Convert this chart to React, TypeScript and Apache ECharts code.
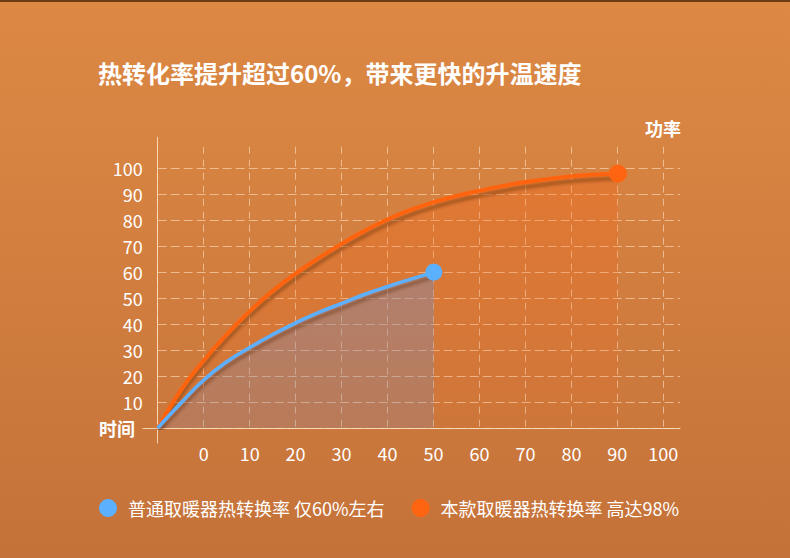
import React, { useEffect, useRef } from "react";
import * as echarts from "echarts";

const titleText = "热转化率提升超过60%，带来更快的升温速度";
const xAxisName = "时间";
const yAxisName = "功率";
const seriesNames = ["普通取暖器热转换率 仅60%左右", "本款取暖器热转换率 高达98%"];

const xMin = -10;
const xMax = 100;
const xStep = 10;
const yMin = 0;
const yMax = 100;
const yStep = 10;

const blueX = [-10, -5, 0, 5, 10, 15, 20, 25, 30, 35, 40, 45, 50];
const blueY = [0, 9.5, 18.5, 25.5, 31, 36, 40.5, 44.5, 48, 51.5, 54.5, 57.3, 60];
const orangeX = [-10, -5, 0, 5, 10, 15, 20, 25, 30, 35, 40, 45, 50, 55, 60, 65, 70, 75, 80, 85, 90];
const orangeY = [0, 14.5, 26, 36, 45, 52.8, 59.5, 65.5, 71, 76, 80.4, 84, 87, 89.4, 91.4, 93.2, 94.7, 95.9, 96.9, 97.6, 98];

const FONT = "'Noto Sans CJK SC', 'Noto Sans', sans-serif";
const BLUE = "#5BB0FF";
const ORANGE = "#FF6410";
const AXIS_COLOR = "rgba(255,226,196,0.85)";
const GRID_COLOR = "rgba(255,226,196,0.6)";

function toPairs(xs: number[], ys: number[], endSize: number) {
  return xs.map((x, i) =>
    i === xs.length - 1
      ? { value: [x, ys[i]], symbol: "circle", symbolSize: endSize }
      : { value: [x, ys[i]] }
  );
}

export default function App() {
  const ref = useRef<HTMLDivElement>(null);
  useEffect(() => {
    if (!ref.current) return;
    const chart = echarts.init(ref.current, undefined, { renderer: "svg" });
    const lineShadow = {
      shadowColor: "rgba(90,40,10,0.4)",
      shadowBlur: 3,
      shadowOffsetY: 5,
    };
    chart.setOption({
      animation: false,
      backgroundColor: {
        type: "linear",
        x: 0,
        y: 0,
        x2: 0,
        y2: 1,
        colorStops: [
          { offset: 0, color: "#DD8944" },
          { offset: 1, color: "#C5723A" },
        ],
      },
      textStyle: { fontFamily: FONT },
      graphic: [
        {
          type: "rect",
          left: 0,
          top: 0,
          shape: { width: 790, height: 2 },
          style: { fill: "#6B3B16" },
        },
      ],
      title: [
        {
          text: titleText,
          left: 98,
          top: 60,
          padding: 0,
          textStyle: { color: "#fff", fontSize: 24, fontWeight: "bold", fontFamily: FONT },
        },
        {
          text: yAxisName,
          right: 109,
          top: 119,
          padding: 0,
          textStyle: { color: "#fff", fontSize: 18, fontWeight: "bold", fontFamily: FONT },
        },
      ],
      legend: {
        data: [seriesNames[0], seriesNames[1]],
        left: 99,
        top: 499,
        icon: "circle",
        itemWidth: 18,
        itemHeight: 18,
        itemGap: 27,
        padding: 0,
        textStyle: { color: "#fff", fontSize: 18, fontFamily: FONT, padding: [0, 0, 0, 6] },
      },
      grid: [
        { left: 157.7, right: 110, top: 168.3, bottom: 130 },
        { left: 157.7, right: 126.7, top: 146.7, bottom: 130 },
        { left: 157.7, right: 110, top: 137.3, bottom: 115 },
        { left: 143, right: 110, top: 137.3, bottom: 130 },
      ],
      xAxis: [
        { gridIndex: 0, type: "value", min: xMin, max: 103.5, show: false },
        {
          gridIndex: 1,
          type: "value",
          min: xMin,
          max: xMax,
          interval: xStep,
          axisLine: { show: false },
          axisTick: { show: false },
          axisLabel: {
            color: "#fff",
            fontSize: 18,
            fontFamily: FONT,
            margin: 16,
            formatter: (v: number) => (v < 0 ? "" : String(v)),
          },
          splitLine: { show: true, lineStyle: { color: GRID_COLOR, type: [7, 6], width: 1 } },
        },
        { gridIndex: 2, type: "value", min: 0, max: 1, show: false },
        {
          gridIndex: 3,
          type: "value",
          min: 0,
          max: 1,
          axisLine: { show: true, onZero: false, lineStyle: { color: AXIS_COLOR, width: 1 } },
          axisTick: { show: false },
          axisLabel: { show: false },
          splitLine: { show: false },
          name: xAxisName,
          nameLocation: "start",
          nameGap: 8,
          nameTextStyle: { color: "#fff", fontSize: 18, fontWeight: "bold", fontFamily: FONT },
        },
      ],
      yAxis: [
        {
          gridIndex: 0,
          type: "value",
          min: yMin,
          max: yMax,
          interval: yStep,
          axisLine: { show: false },
          axisTick: { show: false },
          axisLabel: {
            color: "#fff",
            fontSize: 18,
            fontFamily: FONT,
            margin: 15,
            formatter: (v: number) => (v === 0 ? "" : String(v)),
          },
          splitLine: { show: true, lineStyle: { color: GRID_COLOR, type: [9, 4], width: 1 } },
        },
        { gridIndex: 1, type: "value", min: 0, max: 1, show: false },
        {
          gridIndex: 2,
          type: "value",
          min: 0,
          max: 1,
          axisLine: { show: true, onZero: false, lineStyle: { color: AXIS_COLOR, width: 1 } },
          axisTick: { show: false },
          axisLabel: { show: false },
          splitLine: { show: false },
        },
        { gridIndex: 3, type: "value", min: 0, max: 1, show: false },
      ],
      series: [
        {
          name: seriesNames[1],
          type: "line",
          xAxisIndex: 0,
          yAxisIndex: 0,
          smooth: 0.5,
          symbol: "none",
          data: toPairs(orangeX, orangeY, 18),
          itemStyle: { color: ORANGE },
          lineStyle: { color: ORANGE, width: 4, ...lineShadow },
          areaStyle: {
            color: {
              type: "linear",
              x: 0,
              y: 0,
              x2: 0,
              y2: 1,
              colorStops: [
                { offset: 0, color: "rgba(255,96,16,0.4)" },
                { offset: 1, color: "rgba(255,96,16,0.08)" },
              ],
            },
          },
          z: 2,
        },
        {
          name: seriesNames[0],
          type: "line",
          xAxisIndex: 0,
          yAxisIndex: 0,
          smooth: 0.5,
          symbol: "none",
          data: toPairs(blueX, blueY, 17),
          itemStyle: { color: BLUE },
          lineStyle: { color: BLUE, width: 3.5, ...lineShadow },
          areaStyle: {
            color: {
              type: "linear",
              x: 0,
              y: 0,
              x2: 0,
              y2: 1,
              colorStops: [
                { offset: 0, color: "rgba(110,140,200,0.55)" },
                { offset: 1, color: "rgba(110,140,200,0.3)" },
              ],
            },
          },
          z: 3,
        },
      ],
    });
    return () => chart.dispose();
  }, []);
  return (
    <div
      ref={ref}
      style={{ position: "fixed", left: 0, top: 0, width: 790, height: 558 }}
    />
  );
}
